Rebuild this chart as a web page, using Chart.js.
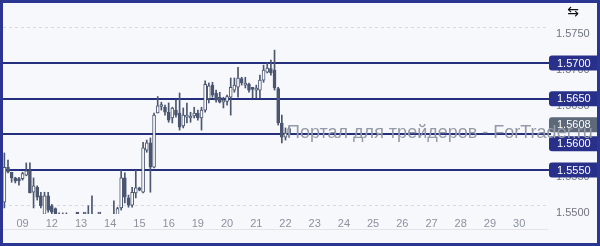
<!DOCTYPE html>
<html>
<head>
<meta charset="utf-8">
<script src="https://cdn.jsdelivr.net/npm/chart.js@4.4.1/dist/chart.umd.min.js"></script>
<style>
  html, body { margin: 0; padding: 0; background: #f6f7fb; overflow: hidden; }
  canvas { display: block; }
</style>
</head>
<body>
<canvas id="chart" width="600" height="246"></canvas>
<script>
// H3 candles, one entry per bar
const openP = [
  1.5505, 1.5554, 1.5547, 1.5539, 1.5538, 1.5538, 1.5543, 1.5549, 1.5519, 1.5526,
  1.5514, 1.5488, 1.5514, 1.5500, 1.5496, 1.5484, 1.5480, 1.5483, 1.5479, 1.5475,
  1.5472, 1.5470, 1.5474, 1.5478, 1.5482, 1.5479, 1.5476, 1.5478, 1.5474, 1.5477,
  1.5481, 1.5486, 1.5497, 1.5539, 1.5511, 1.5501, 1.5518, 1.5525, 1.5519, 1.5578,
  1.5588, 1.5554, 1.5630, 1.5639, 1.5638, 1.5631, 1.5623, 1.5634, 1.5630, 1.5612,
  1.5624, 1.5623, 1.5626, 1.5630, 1.5623, 1.5634, 1.5650, 1.5669, 1.5658, 1.5652,
  1.5645, 1.5646, 1.5652, 1.5662, 1.5666, 1.5678, 1.5669, 1.5670, 1.5664, 1.5662,
  1.5662, 1.5676, 1.5687, 1.5692, 1.5690, 1.5664, 1.5616, 1.5596, 1.5601
];
const closeP = [
  1.5554, 1.5547, 1.5539, 1.5535, 1.5535, 1.5545, 1.5549, 1.5518, 1.5528, 1.5512,
  1.5500, 1.5514, 1.5494, 1.5491, 1.5486, 1.5480, 1.5483, 1.5479, 1.5475, 1.5472,
  1.5470, 1.5474, 1.5476, 1.5482, 1.5479, 1.5476, 1.5478, 1.5474, 1.5477, 1.5481,
  1.5486, 1.5496, 1.5539, 1.5512, 1.5501, 1.5519, 1.5525, 1.5522, 1.5581, 1.5588,
  1.5554, 1.5627, 1.5640, 1.5640, 1.5631, 1.5620, 1.5637, 1.5627, 1.5610, 1.5627,
  1.5627, 1.5624, 1.5630, 1.5623, 1.5634, 1.5670, 1.5668, 1.5655, 1.5648, 1.5645,
  1.5648, 1.5653, 1.5666, 1.5669, 1.5679, 1.5672, 1.5671, 1.5662, 1.5663, 1.5665,
  1.5676, 1.5690, 1.5693, 1.5686, 1.5665, 1.5616, 1.5596, 1.5602, 1.5608
];
const highP = [
  1.5574, 1.5564, 1.5547, 1.5540, 1.5540, 1.5547, 1.5560, 1.5560, 1.5539, 1.5528,
  1.5519, 1.5519, 1.5519, 1.5502, 1.5497, 1.5490, 1.5490, 1.5490, 1.5486, 1.5480,
  1.5478, 1.5479, 1.5482, 1.5500, 1.5514, 1.5486, 1.5484, 1.5483, 1.5485, 1.5487,
  1.5507, 1.5498, 1.5550, 1.5546, 1.5515, 1.5526, 1.5550, 1.5526, 1.5589, 1.5592,
  1.5595, 1.5630, 1.5653, 1.5645, 1.5641, 1.5644, 1.5638, 1.5648, 1.5658, 1.5637,
  1.5644, 1.5631, 1.5638, 1.5634, 1.5638, 1.5675, 1.5672, 1.5673, 1.5662, 1.5659,
  1.5652, 1.5655, 1.5679, 1.5679, 1.5694, 1.5680, 1.5680, 1.5672, 1.5666, 1.5669,
  1.5683, 1.5697, 1.5700, 1.5704, 1.5718, 1.5666, 1.5627, 1.5609, 1.5611
];
const lowP = [
  1.5497, 1.5546, 1.5533, 1.5532, 1.5529, 1.5536, 1.5542, 1.5518, 1.5497, 1.5508,
  1.5497, 1.5485, 1.5491, 1.5488, 1.5482, 1.5476, 1.5475, 1.5474, 1.5470, 1.5466,
  1.5464, 1.5465, 1.5469, 1.5472, 1.5474, 1.5470, 1.5469, 1.5468, 1.5467, 1.5472,
  1.5476, 1.5480, 1.5494, 1.5504, 1.5498, 1.5498, 1.5511, 1.5521, 1.5518, 1.5575,
  1.5519, 1.5553, 1.5630, 1.5634, 1.5627, 1.5617, 1.5616, 1.5624, 1.5606, 1.5609,
  1.5616, 1.5617, 1.5623, 1.5620, 1.5606, 1.5631, 1.5644, 1.5652, 1.5645, 1.5644,
  1.5637, 1.5641, 1.5627, 1.5659, 1.5652, 1.5669, 1.5665, 1.5659, 1.5651, 1.5651,
  1.5651, 1.5673, 1.5686, 1.5683, 1.5662, 1.5613, 1.5588, 1.5592, 1.5596
];

// day labels on the time axis and the bar they sit on
const dayLabels = ['09', '12', '13', '14', '15', '16', '19', '20', '21', '22', '23', '24', '25', '26', '27', '28', '29', '30'];
const dayBars = [5, 13, 21, 29, 37, 45, 53, 61, 69, 77, 85, 93, 101, 109, 117, 125, 133, 141];

const priceTicks = [1.5500, 1.5550, 1.5600, 1.5650, 1.5700, 1.5750];
const levels = [1.5700, 1.5650, 1.5600, 1.5550];
const lastPrice = 1.5608;
const watermark = 'Портал для трейдеров - ForTrader.ru';

const candleColor = '#4b5670';
const navy = '#28308a';

const wicks = openP.map((o, i) => ({ x: i, y: [lowP[i], highP[i]] }));
const bodies = openP.map((o, i) => ({ x: i, y: [o, closeP[i]] }));
const bodyFill = openP.map((o, i) => closeP[i] >= o ? '#ffffff' : candleColor);

function roundRect(ctx, x, y, w, h, r) {
  ctx.beginPath();
  ctx.moveTo(x + r, y);
  ctx.lineTo(x + w, y);
  ctx.lineTo(x + w, y + h);
  ctx.lineTo(x + r, y + h);
  ctx.quadraticCurveTo(x, y + h, x, y + h - r);
  ctx.lineTo(x, y + r);
  ctx.quadraticCurveTo(x, y, x + r, y);
  ctx.closePath();
}

const overlay = {
  id: 'overlay',
  beforeDraw(chart) {
    const ctx = chart.ctx;
    ctx.save();
    ctx.fillStyle = '#f7f8fc';
    ctx.fillRect(0, 0, chart.width, chart.height);
    ctx.restore();
  },
  beforeDatasetsDraw(chart) {
    const ctx = chart.ctx;
    const y = chart.scales.y;
    ctx.save();
    ctx.strokeStyle = '#262e7e';
    ctx.lineWidth = 2;
    levels.forEach(v => {
      const py = Math.round(y.getPixelForValue(v));
      ctx.beginPath();
      ctx.moveTo(3, py);
      ctx.lineTo(551, py);
      ctx.stroke();
    });
    ctx.restore();
  },
  afterDraw(chart) {
    const ctx = chart.ctx;
    const y = chart.scales.y;
    const area = chart.chartArea;
    ctx.save();

    // separator under the day labels
    ctx.strokeStyle = '#e2e4ea';
    ctx.lineWidth = 1;
    ctx.beginPath();
    ctx.moveTo(3, 229.5);
    ctx.lineTo(area.right, 229.5);
    ctx.stroke();

    ctx.font = '11px "Liberation Sans", Arial, sans-serif';
    ctx.textBaseline = 'middle';
    ctx.textAlign = 'left';
    const boxH = 15;

    // last price box
    const curY = y.getPixelForValue(lastPrice) - 4;
    const curTop = curY - boxH / 2;
    ctx.fillStyle = '#5d6879';
    roundRect(ctx, 549, curTop, 50, boxH, 3);
    ctx.fill();
    ctx.fillStyle = '#ffffff';
    ctx.fillText(lastPrice.toFixed(4), 557, curY + 0.5);

    // level boxes
    levels.forEach(v => {
      let cy = y.getPixelForValue(v);
      if (Math.abs(cy - curY) < boxH) cy = curTop + boxH + 4 + boxH / 2;
      ctx.fillStyle = navy;
      roundRect(ctx, 549, cy - boxH / 2, 50, boxH, 3);
      ctx.fill();
      ctx.fillStyle = '#ffffff';
      ctx.fillText(v.toFixed(4), 557, cy + 0.5);
    });

    // watermark
    let size = 16;
    ctx.font = size + 'px "Liberation Sans", Arial, sans-serif';
    size = size * 306 / ctx.measureText(watermark).width;
    ctx.font = size.toFixed(1) + 'px "Liberation Sans", Arial, sans-serif';
    ctx.fillStyle = '#959aa8';
    ctx.textBaseline = 'alphabetic';
    ctx.fillText(watermark, 287, 138);

    // toolbar icon
    ctx.font = '14px "DejaVu Sans", sans-serif';
    ctx.fillStyle = '#111111';
    ctx.textAlign = 'center';
    ctx.textBaseline = 'middle';
    ctx.fillText('⇆', 573, 12);

    // frame
    ctx.strokeStyle = '#2b3592';
    ctx.lineWidth = 3;
    ctx.strokeRect(1.5, 1.5, chart.width - 3, chart.height - 3);
    ctx.restore();
  }
};

const ctx = document.getElementById('chart').getContext('2d');

const config = {
  type: 'bar',
  data: {
    datasets: [
      {
        label: 'wick',
        data: wicks,
        backgroundColor: candleColor,
        barThickness: 1,
        grouped: false,
        order: 2
      },
      {
        label: 'body',
        data: bodies,
        backgroundColor: bodyFill,
        borderColor: candleColor,
        borderWidth: 1,
        borderSkipped: false,
        barThickness: 3,
        minBarLength: 2,
        grouped: false,
        order: 1
      }
    ]
  },
  options: {
    responsive: false,
    animation: false,
    layout: { padding: { left: 3, top: 4, right: 0, bottom: 0 } },
    plugins: {
      legend: { display: false },
      tooltip: { enabled: false }
    },
    scales: {
      x: {
        type: 'linear',
        min: -0.37,
        max: 148.9,
        offset: false,
        grid: { display: false, drawTicks: false },
        border: { display: false },
        afterBuildTicks: s => { s.ticks = dayBars.map(v => ({ value: v })); },
        afterFit: s => {
          s.height = 32;
          s.paddingLeft = 0;
          s.paddingRight = 0;
        },
        ticks: {
          autoSkip: false,
          maxRotation: 0,
          padding: 3,
          color: '#8c91a0',
          font: { family: 'Liberation Sans', size: 11 },
          callback: v => {
            const k = dayBars.indexOf(v);
            return k >= 0 ? dayLabels[k] : '';
          }
        }
      },
      y: {
        position: 'right',
        min: 1.54885,
        max: 1.57826,
        grid: { color: '#d6d9e2', drawTicks: false },
        border: { display: false, dash: [3, 3] },
        afterBuildTicks: s => { s.ticks = priceTicks.map(v => ({ value: v })); },
        afterFit: s => {
          s.width = 52;
          s.paddingTop = 0;
          s.paddingBottom = 0;
        },
        ticks: {
          padding: 8,
          labelOffset: 7,
          color: '#70757f',
          font: { family: 'Liberation Sans', size: 11 },
          callback: v => v.toFixed(4)
        }
      }
    }
  },
  plugins: [overlay]
};

const chart = new Chart(ctx, config);
</script>
</body>
</html>
